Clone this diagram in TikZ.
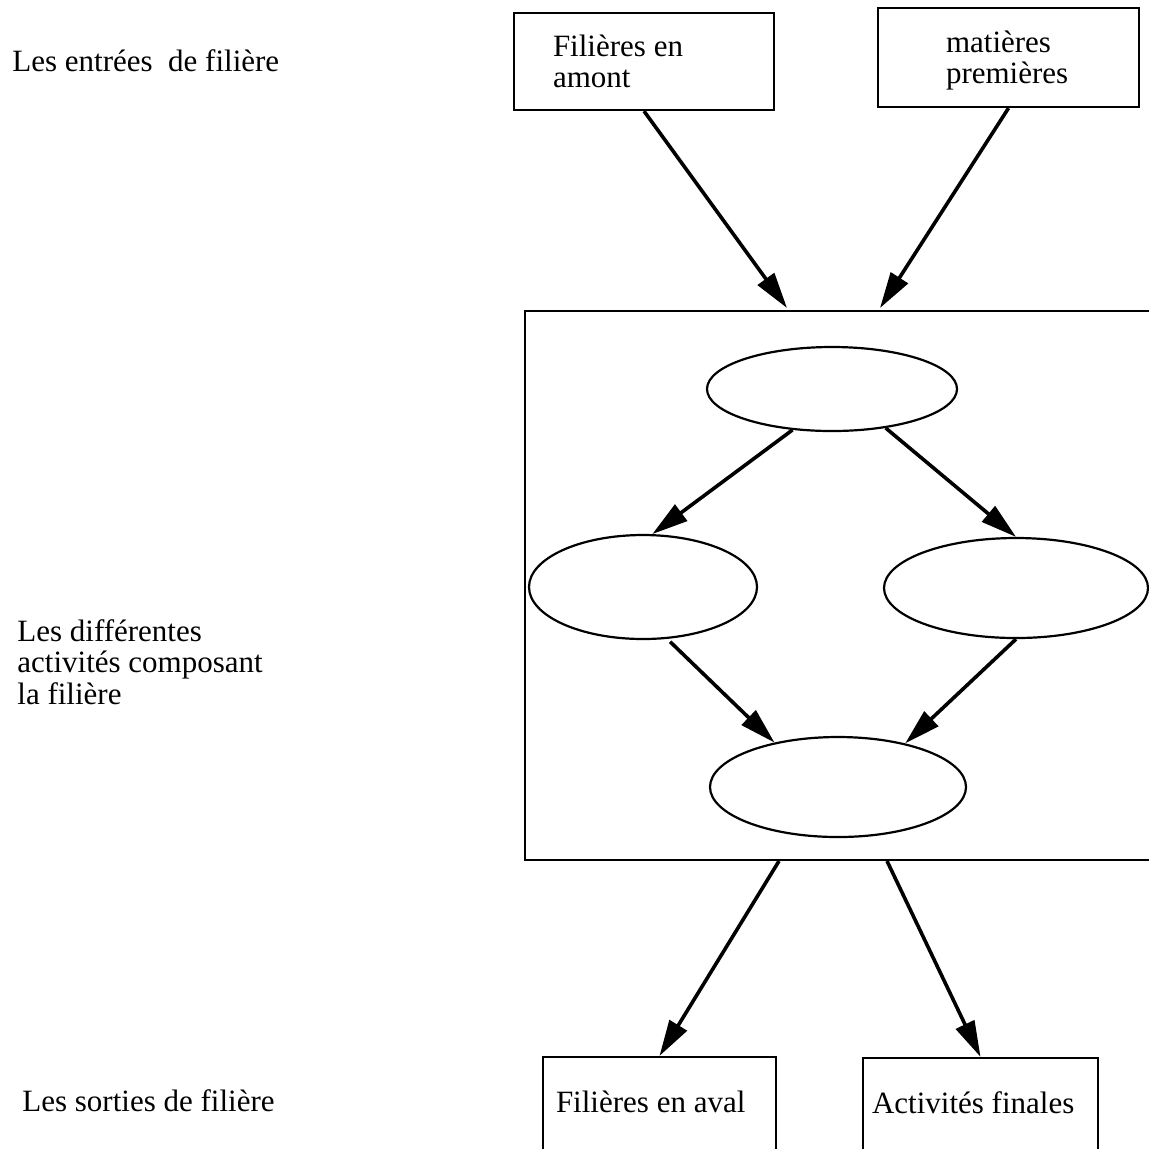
\documentclass[tikz,border=0pt]{standalone}
\usepackage{fontspec}
\setmainfont{Liberation Serif}
\usetikzlibrary{shapes.geometric,arrows.meta}

\begin{document}
\begin{tikzpicture}
  [x=0.5pt,y=-0.5pt,
   every node/.style={font=\fontsize{15.5pt}{15.75pt}\selectfont},
   legende/.style={anchor=base west,inner sep=0pt,align=left},
   boite/.style={draw,line width=1.1pt,rectangle,align=flush left},
   activite/.style={draw,line width=1.1pt,ellipse,inner sep=0pt},
   fleche/.style={line width=1.8pt,-{Triangle[length=18pt,width=10pt]}}]
  \useasboundingbox (0,0) rectangle (1149,1148);

  % legendes a gauche
  \node[legende] (entrees) at (12,71) {Les entrées\ \ de filière};
  \node[legende] (composant) at (17,704) {Les différentes\\activités composant\\la filière};
  \node[legende] (sorties) at (22,1111) {Les sorties de filière};

  % entrees
  \node[boite,text width=91pt,inner xsep=19.5pt,minimum height=48.5pt] (amont) at (644,61.5) {Filières en\\amont};
  \node[boite,text width=62.5pt,inner xsep=34pt,minimum height=49.5pt] (premieres) at (1008.5,57.5) {\raisebox{0pt}[14pt]{matières}\\premières};

  % la filiere et ses activites
  \node[draw,line width=1.1pt,minimum width=315.5pt,minimum height=274.5pt] (filiere) at (840.5,585.5) {};
  \node[activite,minimum width=125pt,minimum height=42pt] (haut) at (832,389) {};
  \node[activite,minimum width=114pt,minimum height=52pt] (gauche) at (643,587) {};
  \node[activite,minimum width=132pt,minimum height=50pt] (droite) at (1016,588) {};
  \node[activite,minimum width=128pt,minimum height=50pt] (bas) at (838,787) {};

  % sorties
  \node[boite,text width=103.5pt,inner xsep=6.5pt,inner ysep=0pt,text height=27.5pt,text depth=30pt,anchor=base] (aval) at (659.5,1112) {Filières en aval};
  \node[boite,text width=108.5pt,inner xsep=4.5pt,inner ysep=0pt,text height=27.5pt,text depth=30pt,anchor=base] (finales) at (980.5,1113) {Activités finales};

  \coordinate (entree1) at (787,308);
  \coordinate (entree2) at (880,308);
  \coordinate (sortie1) at (779,861);
  \coordinate (sortie2) at (887,861);

  \draw[fleche] (amont.south) -- (entree1);
  \draw[fleche] (premieres.south) -- (entree2);
  \draw[fleche] (haut.226) -- (gauche.80);
  \draw[fleche] (haut.324) -- (droite.north);
  \draw[fleche,shorten <=2pt] (gauche.295) -- (bas.145);
  \draw[fleche] (droite.south) -- (bas.33);
  \draw[fleche] (sortie1) -- (aval.north);
  \draw[fleche] (sortie2) -- (finales.north);
\end{tikzpicture}
\end{document}
